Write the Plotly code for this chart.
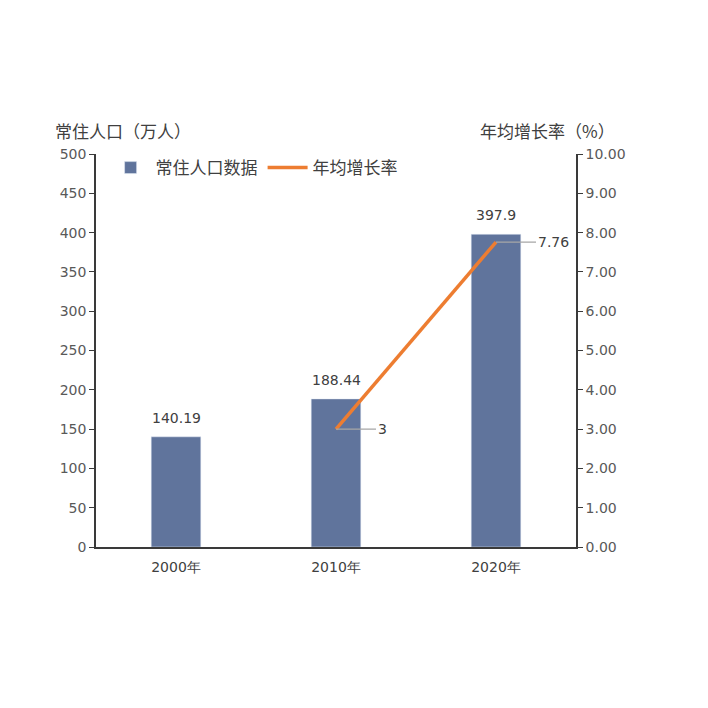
import plotly.graph_objects as go

years = ["2000年", "2010年", "2020年"]
population = [140.19, 188.44, 397.9]
growth_rate = [None, 3, 7.76]

pop_labels = ["140.19", "188.44", "397.9"]
rate_labels = ["", "3", "7.76"]

cjk_font = "Noto Sans CJK SC, sans-serif"
num_font = "DejaVu Sans, sans-serif"
text_grey = "#595959"
label_dark = "#404040"
axis_dark = "#3a3a3a"

fig = go.Figure()

fig.add_trace(go.Bar(
    name="常住人口数据",
    x=years,
    y=population,
    marker_color="#60749c",
    width=0.31,
))

fig.add_trace(go.Scatter(
    name="年均增长率",
    x=years,
    y=growth_rate,
    mode="lines",
    line=dict(color="#ed7d31", width=3.5),
    yaxis="y2",
))

# bar value labels, sitting a bit above the bars
for x, y, lab in zip(years, population, pop_labels):
    fig.add_annotation(
        x=x, y=y, xref="x", yref="y", text=lab, showarrow=False,
        yanchor="bottom", yshift=9,
        font=dict(family=num_font, size=14, color=label_dark),
    )

# data labels for the rate line, with a grey leader line
for x, y, lab in zip(years, growth_rate, rate_labels):
    if y is None:
        continue
    fig.add_annotation(
        x=x, y=y, xref="x", yref="y2",
        text=lab, showarrow=True, arrowhead=0, arrowwidth=1.2,
        arrowcolor="#a6a6a6", ax=40, ay=0, xanchor="left",
        font=dict(family=num_font, size=14, color=label_dark),
    )

# axis titles
fig.add_annotation(
    text="常住人口（万人）", xref="paper", yref="paper",
    x=-0.09, y=1.061, xanchor="left", yanchor="middle", showarrow=False,
    font=dict(family=cjk_font, size=17, color=label_dark),
)
fig.add_annotation(
    text="年均增长率（%）", xref="paper", yref="paper",
    x=0.795, y=1.061, xanchor="left", yanchor="middle", showarrow=False,
    font=dict(family=cjk_font, size=17, color=label_dark),
)

fig.update_layout(
    width=708, height=708,
    margin=dict(l=88, r=140, t=146, b=169),
    paper_bgcolor="white",
    plot_bgcolor="white",
    font=dict(family=num_font, size=14, color=text_grey),
    showlegend=True,
    legend=dict(
        orientation="h", x=0.02, y=1.01, xanchor="left", yanchor="top",
        font=dict(family=cjk_font, size=17, color=label_dark),
        bgcolor="rgba(0,0,0,0)", itemwidth=40,
    ),
    xaxis=dict(
        showline=True, linecolor=axis_dark, linewidth=1.5,
        showgrid=False, ticks="", ticklabelstandoff=6,
        tickfont=dict(family=num_font, size=14, color=label_dark),
    ),
    yaxis=dict(
        range=[0, 500], dtick=50, showgrid=False, zeroline=False,
        showline=True, linecolor=axis_dark, linewidth=1.5,
        ticks="outside", ticklen=5, tickcolor=axis_dark,
        tickfont=dict(family=num_font, size=14, color=text_grey),
    ),
    yaxis2=dict(
        range=[0, 10], dtick=1, tickformat=".2f", overlaying="y", side="right",
        showgrid=False, zeroline=False,
        showline=True, linecolor=axis_dark, linewidth=1.5,
        ticks="outside", ticklen=5, tickcolor=axis_dark,
        tickfont=dict(family=num_font, size=14, color=text_grey),
    ),
)

fig.write_html("out.html")
